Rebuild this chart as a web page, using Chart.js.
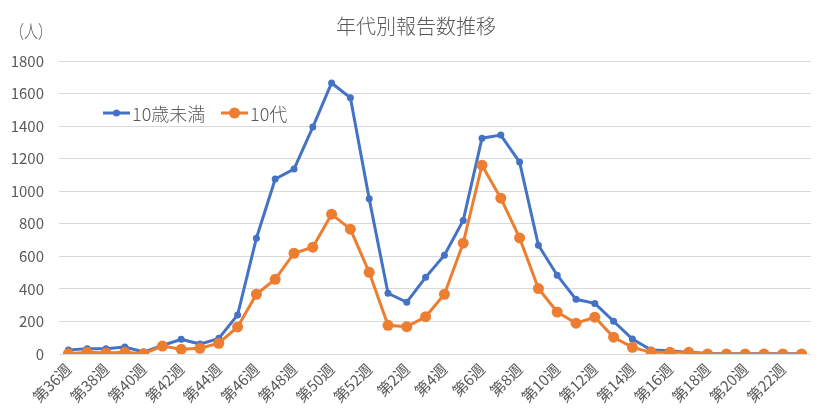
<!DOCTYPE html>
<html>
<head>
<meta charset="utf-8">
<script src="https://cdn.jsdelivr.net/npm/chart.js@4.4.1/dist/chart.umd.min.js"></script>
<style>
  html, body { margin: 0; padding: 0; background: #fff; }
  #wrap { width: 834px; height: 417px; position: relative; }
</style>
</head>
<body>
<div id="wrap"><canvas id="chart"></canvas></div>
<script>
// 週ラベル（第36週〜第23週）
const weeks = [
    "第36週", "第37週", "第38週", "第39週", "第40週", "第41週", "第42週", "第43週", "第44週", "第45週",
    "第46週", "第47週", "第48週", "第49週", "第50週", "第51週", "第52週", "第1週", "第2週", "第3週",
    "第4週", "第5週", "第6週", "第7週", "第8週", "第9週", "第10週", "第11週", "第12週", "第13週",
    "第14週", "第15週", "第16週", "第17週", "第18週", "第19週", "第20週", "第21週", "第22週", "第23週"
]
const under10 = [
    25, 33, 33, 43, 12, 52, 90, 61, 96, 240,
    711, 1075, 1136, 1394, 1665, 1574, 953, 373, 318, 471,
    607, 820, 1326, 1345, 1179, 668, 484, 336, 311, 201,
    92, 25, 20, 10, 3, 2, 2, 1, 1, 1
]
const teens = [
    2, 10, 6, 10, 2, 49, 29, 35, 66, 166,
    367, 459, 619, 656, 859, 767, 502, 176, 168, 229,
    367, 681, 1160, 957, 713, 402, 258, 189, 226, 103,
    41, 10, 10, 10, 0, 0, 0, 0, 0, 0
]
const yTicks = [0, 200, 400, 600, 800, 1000, 1200, 1400, 1600, 1800]

const titleText = "年代別報告数推移"
const unitText = "（人）"
const names = ["10歳未満", "10代"]
const BLUE = "#4472C4"
const ORANGE = "#ED7D31"
const TEXT = "#595959"
const CJK = "'Noto Sans CJK JP', 'Noto Sans', sans-serif"
const NARROW = "'Liberation Sans Narrow', 'Noto Sans CJK JP', sans-serif"

// タイトル・単位・凡例は手描き（Excel風の配置にするため）
const decor = {
    id: "decor",
    afterDraw(chart) {
        const ctx = chart.ctx
        ctx.save()
        ctx.fillStyle = TEXT
        ctx.textBaseline = "middle"

        // title
        ctx.font = "300 20px " + CJK
        ctx.textAlign = "center"
        ctx.fillText(titleText, 416, 26)

        // unit
        ctx.save()
        ctx.translate(31, 31)
        ctx.scale(0.78, 1)
        ctx.font = "300 18px " + CJK
        ctx.textAlign = "center"
        ctx.fillText(unitText, 0, 0)
        ctx.restore()

        // legend
        const items = [
            { x: 103, color: BLUE, r: 3.5, text: names[0] },
            { x: 221, color: ORANGE, r: 5.5, text: names[1] }
        ]
        const ly = 113
        ctx.font = "300 18px " + CJK
        ctx.textAlign = "left"
        items.forEach(it => {
            ctx.strokeStyle = it.color
            ctx.lineWidth = 3
            ctx.beginPath()
            ctx.moveTo(it.x, ly)
            ctx.lineTo(it.x + 27, ly)
            ctx.stroke()
            ctx.fillStyle = it.color
            ctx.beginPath()
            ctx.arc(it.x + 13.5, ly, it.r, 0, Math.PI * 2)
            ctx.fill()
            ctx.fillStyle = TEXT
            ctx.fillText(it.text, it.x + 29, ly + 1)
        })
        ctx.restore()
    }
}

const ctx = document.getElementById("chart")
new Chart(ctx, {
    type: "line",
    data: {
        labels: weeks,
        datasets: [{
            label: names[0],
            data: under10,
            borderColor: BLUE,
            backgroundColor: BLUE,
            borderWidth: 3,
            pointRadius: 3.5,
            pointBorderWidth: 0,
            pointBackgroundColor: BLUE,
            tension: 0,
            order: 2
        }, {
            label: names[1],
            data: teens,
            borderColor: ORANGE,
            backgroundColor: ORANGE,
            borderWidth: 3,
            pointRadius: 5.5,
            pointBorderWidth: 0,
            pointBackgroundColor: ORANGE,
            tension: 0,
            order: 1
        }]
    },
    options: {
        responsive: true,
        maintainAspectRatio: false,
        animation: false,
        layout: { padding: { left: 0, right: 23, top: 61, bottom: 0 } },
        plugins: {
            legend: { display: false },
            title: { display: false },
            tooltip: { enabled: false }
        },
        scales: {
            x: {
                offset: true,
                grid: { display: false, drawTicks: false },
                border: { display: false },
                ticks: {
                    autoSkip: false,
                    maxRotation: 45,
                    minRotation: 45,
                    padding: 6,
                    color: TEXT,
                    font: { family: NARROW, size: 15 },
                    callback: (v, i) => i % 2 == 0 ? weeks[i] : ""
                },
                afterFit: (scale) => { scale.height = 63 }
            },
            y: {
                min: 0,
                max: 1800,
                afterBuildTicks: (scale) => { scale.ticks = yTicks.map(v => ({ value: v })) },
                grid: { color: "#D9D9D9", lineWidth: 1, drawTicks: false },
                border: { display: false },
                ticks: {
                    padding: 15,
                    color: TEXT,
                    font: { family: NARROW, size: 15 },
                    callback: (v) => String(v)
                },
                afterFit: (scale) => { scale.width = 59 }
            }
        }
    },
    plugins: [decor]
})
</script>
</body>
</html>
